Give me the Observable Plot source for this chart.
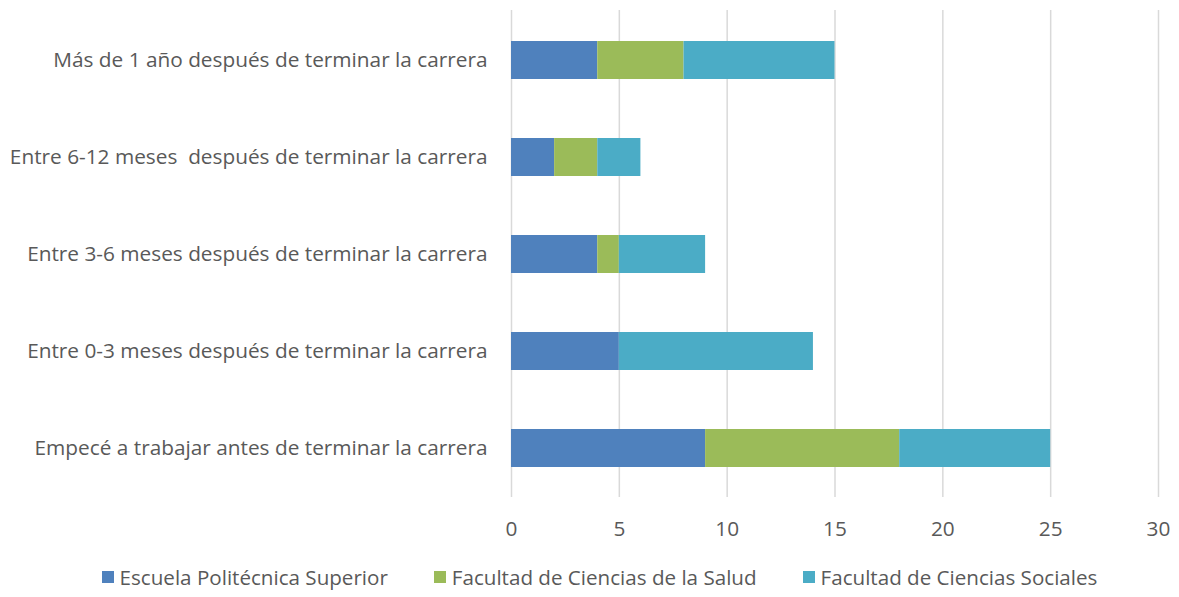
<!DOCTYPE html>
<html>
<head>
<meta charset="utf-8">
<script src="https://cdn.jsdelivr.net/npm/d3@7"></script>
<script src="https://cdn.jsdelivr.net/npm/@observablehq/plot@0.6"></script>
<style>
  body { margin: 0; background: #fff; font-family: "Open Sans", sans-serif; }
  #legend { display: flex; justify-content: center; gap: 46px; font-size: 20.6px; color: #595959; margin-top: 10px; padding-left: 20px; }
  #legend .item { display: flex; align-items: center; gap: 6px; }
  #legend .sw { width: 12px; height: 12px; display: inline-block; }
</style>
</head>
<body>
<div id="chart"></div>
<div id="legend"></div>
<script>
const categories = [
  "Más de 1 año después de terminar la carrera",
  "Entre 6-12 meses  después de terminar la carrera",
  "Entre 3-6 meses después de terminar la carrera",
  "Entre 0-3 meses después de terminar la carrera",
  "Empecé a trabajar antes de terminar la carrera"
];
const seriesNames = ["Escuela Politécnica Superior", "Facultad de Ciencias de la Salud", "Facultad de Ciencias Sociales"];
const escuela = [4, 2, 4, 5, 9];
const salud = [4, 2, 1, 0, 9];
const sociales = [7, 2, 4, 9, 7];
const xTicks = [0, 5, 10, 15, 20, 25, 30];
const colors = ["#4F81BD", "#9BBB59", "#4BACC6"];

const seriesValues = [escuela, salud, sociales];
const data = [];
seriesNames.forEach((s, si) => categories.forEach((c, ci) => data.push({series: s, category: c, value: seriesValues[si][ci]})));

const chart = Plot.plot({
  width: 1179,
  height: 553,
  marginLeft: 511,
  marginRight: 21,
  marginTop: 10,
  marginBottom: 56,
  style: {fontFamily: "'Open Sans', sans-serif", fontSize: "20.8px", color: "#595959", background: "#fff"},
  x: {domain: [0, 30], ticks: xTicks, tickSize: 0, tickPadding: 24, label: null},
  y: {domain: categories, paddingInner: 0.61, paddingOuter: 0.305, tickSize: 0, tickPadding: 24, label: null},
  color: {domain: seriesNames, range: colors},
  marks: [
    Plot.ruleX(xTicks, {stroke: "#d9d9d9", strokeWidth: 1.5}),
    Plot.barX(data, {x: "value", y: "category", fill: "series"}),
    Plot.axisX({ticks: xTicks, tickSize: 0, tickPadding: 24, fill: "#595959"}),
    Plot.axisY({tickSize: 0, tickPadding: 24, fill: "#595959"})
  ]
});
document.getElementById("chart").appendChild(chart);

const legend = document.getElementById("legend");
seriesNames.forEach((s, i) => {
  const item = document.createElement("div");
  item.className = "item";
  const sw = document.createElement("span");
  sw.className = "sw";
  sw.style.background = colors[i];
  const t = document.createElement("span");
  t.textContent = s;
  item.appendChild(sw);
  item.appendChild(t);
  legend.appendChild(item);
});
</script>
</body>
</html>
